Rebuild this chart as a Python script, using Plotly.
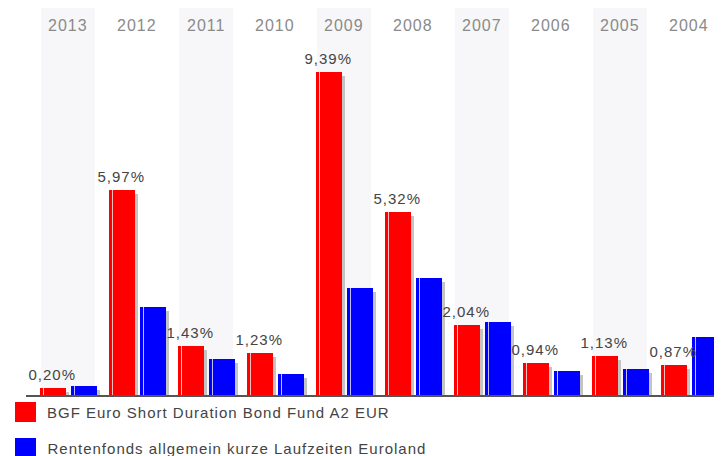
import plotly.graph_objects as go

years = ["2013", "2012", "2011", "2010", "2009", "2008", "2007", "2006", "2005", "2004"]
fund_values = [0.20, 5.97, 1.43, 1.23, 9.39, 5.32, 2.04, 0.94, 1.13, 0.87]
peer_values = [0.26, 2.56, 1.05, 0.61, 3.11, 3.40, 2.12, 0.70, 0.76, 1.69]
fund_labels = ["0,20%", "5,97%", "1,43%", "1,23%", "9,39%", "5,32%", "2,04%", "0,94%", "1,13%", "0,87%"]
series_names = ["BGF Euro Short Duration Bond Fund A2 EUR",
                "Rentenfonds allgemein kurze Laufzeiten Euroland"]

RED = "#ff0000"
BLUE = "#0000ff"
FONT = "Liberation Sans, Arial, sans-serif"
LETTER_SPACING = 1  # px, applied by CSS below

# page body has an 8px margin; the figure is sized to fill the rest of the window
OFF = 8
W, H = 722 - OFF, 456 - OFF
ML, MR, MT, MB = 26 - OFF, 0, 8 - OFF, 456 - 395
plot_w = W - ML - MR
plot_h = H - MT - MB
x_lo, x_hi = -0.609, 9.478
px_per_unit_x = plot_w / (x_hi - x_lo)
y_hi = 11.25
px_per_unit_y = plot_h / y_hi

def px(v):
    return v / px_per_unit_x

def paper_y(win_y):
    # window pixel y -> paper fraction
    return (H - MB - (win_y - OFF)) / plot_h

def paper_x(win_x):
    return (win_x - OFF - ML) / plot_w

xs = list(range(len(years)))
bar_w = px(25.5)
red_off = px(-28)
blue_off = px(3)
sh_dx = px(3)
sh_dy = 4 / px_per_unit_y

fig = go.Figure()

# shadows
for vals, off in ((fund_values, red_off), (peer_values, blue_off)):
    fig.add_trace(go.Bar(x=xs, y=[v - sh_dy for v in vals], width=bar_w, offset=off + sh_dx,
                         marker=dict(color="#c4c4c4", line=dict(width=0)),
                         hoverinfo="skip", showlegend=False))
# main bars
for vals, off, col, name in ((fund_values, red_off, RED, series_names[0]),
                             (peer_values, blue_off, BLUE, series_names[1])):
    fig.add_trace(go.Bar(x=xs, y=vals, width=bar_w, offset=off, name=name,
                         marker=dict(color=col, line=dict(width=0)), showlegend=False))
    # highlight stripe
    fig.add_trace(go.Bar(x=xs, y=vals, width=px(1.3), offset=off + px(3),
                         marker=dict(color="rgba(255,255,255,0.75)", line=dict(width=0)),
                         hoverinfo="skip", showlegend=False))

shapes = []
for i in xs:
    if i % 2 == 0:
        shapes.append(dict(type="rect", xref="x", yref="paper", x0=i - px(27), x1=i + px(27),
                           y0=0, y1=1, fillcolor="#f7f7f9", line=dict(width=0), layer="below"))

annotations = []
for i, y in enumerate(years):
    annotations.append(dict(x=i, y=paper_y(25), xref="x", yref="paper", text=y, showarrow=False,
                            font=dict(family=FONT, size=16, color="#8a8a8a"), yanchor="middle"))
for i, (v, t) in enumerate(zip(fund_values, fund_labels)):
    annotations.append(dict(x=i + red_off + bar_w / 2, y=v, xref="x", yref="y", text=t, showarrow=False,
                            font=dict(family=FONT, size=15, color="#444444"), yanchor="bottom", yshift=3))

# custom legend
for k, (name, col) in enumerate(zip(series_names, (RED, BLUE))):
    top = 402 + 36 * k
    shapes.append(dict(type="rect", xref="paper", yref="paper",
                       x0=paper_x(15), x1=paper_x(36),
                       y0=paper_y(top + 20), y1=paper_y(top),
                       fillcolor=col, line=dict(width=0)))
    # letter-spacing widens the text around its centre, so shift to keep the left edge
    annotations.append(dict(x=paper_x(46), y=paper_y(top + 10.5), xref="paper", yref="paper",
                            text=name, showarrow=False, xanchor="left", yanchor="middle",
                            xshift=len(name) * LETTER_SPACING / 2 - 1,
                            font=dict(family=FONT, size=15, color="#444444")))

fig.update_layout(
    width=W, height=H, margin=dict(l=ML, r=MR, t=MT, b=MB),
    paper_bgcolor="white", plot_bgcolor="white",
    barmode="overlay", bargap=0,
    shapes=shapes, annotations=annotations,
    xaxis=dict(range=[x_lo, x_hi], showgrid=False, zeroline=False, showticklabels=False,
               ticks="", showline=True, linecolor="#555555", linewidth=2, fixedrange=True),
    yaxis=dict(range=[0, y_hi], showgrid=False, zeroline=False, showticklabels=False,
               ticks="", showline=False, fixedrange=True),
    showlegend=False,
)

css = ("var s=document.createElement('style');"
       "s.innerHTML='.annotation-text{letter-spacing:%dpx}';"
       "document.head.appendChild(s);" % LETTER_SPACING)
fig.write_html("out.html", post_script=css)
